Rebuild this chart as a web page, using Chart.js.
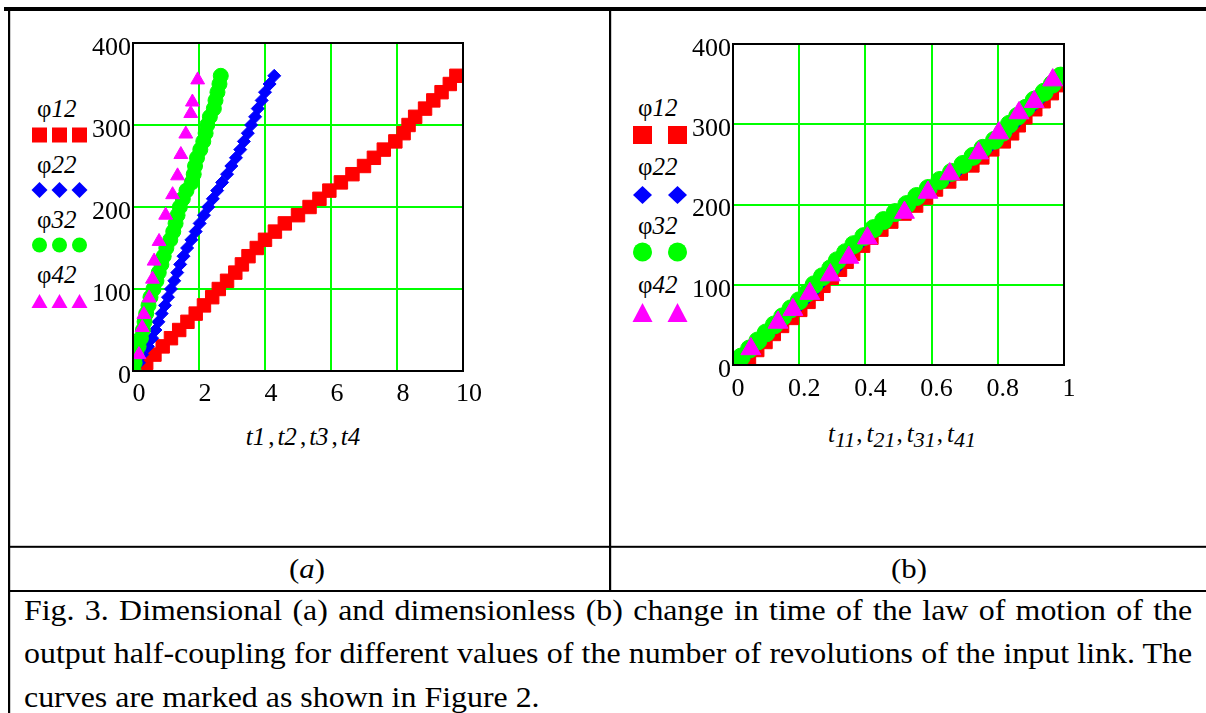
<!DOCTYPE html>
<html>
<head>
<meta charset="utf-8">
<script src="https://cdn.jsdelivr.net/npm/chart.js@4.4.1/dist/chart.umd.min.js"></script>
<style>
html,body{margin:0;padding:0;background:#fff;}
body{width:1206px;height:713px;position:relative;overflow:hidden;font-family:"Liberation Serif","Times New Roman",serif;color:#000;}
canvas{position:absolute;}
.lg{position:absolute;font-size:25px;line-height:25px;white-space:nowrap;}
.ttl{position:absolute;font-size:25px;line-height:25px;white-space:nowrap;transform:translateX(-50%);}
.ttl sub{font-size:22px;vertical-align:baseline;position:relative;top:5px;}
.cm{margin:0 3px;}
.cm2{margin:0 4px 0 1px;}
.cap{position:absolute;left:24px;width:1062px;font-size:29px;line-height:29px;white-space:nowrap;transform:scaleX(1.1);transform-origin:0 0;}
.just{text-align:justify;text-align-last:justify;}
.sub{position:absolute;font-size:28px;line-height:28px;white-space:nowrap;transform:translateX(-50%) scaleX(1.1);}
</style>
</head>
<body>
<svg style="position:absolute;left:0;top:0" width="1206" height="713">
  <rect x="4" y="7" width="1202" height="4" fill="#000"/>
  <rect x="8" y="7" width="2.2" height="706" fill="#000"/>
  <rect x="609" y="7" width="2.2" height="585" fill="#000"/>
  <rect x="8" y="545.8" width="1198" height="2" fill="#000"/>
  <rect x="8" y="590" width="1198" height="2" fill="#000"/>
  <!-- left legend symbols -->
  <rect x="32" y="127.5" width="15" height="15" fill="#ff0000"/>
  <rect x="52" y="127.5" width="15" height="15" fill="#ff0000"/>
  <rect x="72" y="127.5" width="15" height="15" fill="#ff0000"/>
  <polygon points="39.5,182 47.5,190 39.5,198 31.5,190" fill="#0000ff"/>
  <polygon points="59.5,182 67.5,190 59.5,198 51.5,190" fill="#0000ff"/>
  <polygon points="79.5,182 87.5,190 79.5,198 71.5,190" fill="#0000ff"/>
  <circle cx="39.5" cy="245" r="7.5" fill="#00ff00"/>
  <circle cx="59.5" cy="245" r="7.5" fill="#00ff00"/>
  <circle cx="79.5" cy="245" r="7.5" fill="#00ff00"/>
  <polygon points="39.5,294 47.5,308 31.5,308" fill="#ff00ff"/>
  <polygon points="59.5,294 67.5,308 51.5,308" fill="#ff00ff"/>
  <polygon points="79.5,294 87.5,308 71.5,308" fill="#ff00ff"/>
  <!-- right legend symbols -->
  <rect x="633" y="126" width="19" height="18" fill="#ff0000"/>
  <rect x="668" y="126" width="19" height="18" fill="#ff0000"/>
  <polygon points="642.5,186 652,195 642.5,204 633,195" fill="#0000ff"/>
  <polygon points="677.5,186 687,195 677.5,204 668,195" fill="#0000ff"/>
  <circle cx="642.5" cy="252" r="9.5" fill="#00ff00"/>
  <circle cx="677.5" cy="252" r="9.5" fill="#00ff00"/>
  <polygon points="642.5,303 652.5,322 632.5,322" fill="#ff00ff"/>
  <polygon points="677.5,303 687.5,322 667.5,322" fill="#ff00ff"/>
</svg>

<div class="lg" style="left:37px;top:96px">φ<i>12</i></div>
<div class="lg" style="left:37px;top:152px">φ<i>22</i></div>
<div class="lg" style="left:37px;top:207px">φ<i>32</i></div>
<div class="lg" style="left:37px;top:262px">φ<i>42</i></div>

<div class="lg" style="left:638px;top:95px">φ<i>12</i></div>
<div class="lg" style="left:638px;top:154px">φ<i>22</i></div>
<div class="lg" style="left:638px;top:213px">φ<i>32</i></div>
<div class="lg" style="left:638px;top:272px">φ<i>42</i></div>

<div class="ttl" style="left:303px;top:424px"><i>t1</i><span class="cm">,</span><i>t2</i><span class="cm">,</span><i>t3</i><span class="cm">,</span><i>t4</i></div>
<div class="ttl" style="left:902px;top:421px"><i>t</i><sub><i>11</i></sub><span class="cm2">,</span><i>t</i><sub><i>21</i></sub><span class="cm2">,</span><i>t</i><sub><i>31</i></sub><span class="cm2">,</span><i>t</i><sub><i>41</i></sub></div>

<div class="sub" style="left:307px;top:555px">(<i>a</i>)</div>
<div class="sub" style="left:909px;top:555px">(b)</div>

<div class="cap just" style="top:596px">Fig. 3. Dimensional (a) and dimensionless (b) change in time of the law of motion of the</div>
<div class="cap just" style="top:639px">output half-coupling for different values of the number of revolutions of the input link. The</div>
<div class="cap" style="top:683px">curves are marked as shown in Figure 2.</div>

<canvas id="chartA" width="609" height="480" style="left:0;top:0"></canvas>
<canvas id="chartB" width="595" height="480" style="left:611px;top:0"></canvas>

<script>
// ---- data ----
const SERIES = ['φ12', 'φ22', 'φ32', 'φ42'];
const COLORS = ['#ff0000', '#0000ff', '#00ff00', '#ff00ff'];
const Y_TICKS = [0, 100, 200, 300, 400];
const X_TICKS_A = [0, 2, 4, 6, 8, 10];
const X_TICKS_B = [0, 0.2, 0.4, 0.6, 0.8, 1];

// angle values (deg) for series 1-3
const PHI = [0,10,20,30,40,50,60,70,80,90,100,110,120,130,140,150,160,170,180,190,200,210,220,230,240,250,260,270,280,290,300,310,320,330,340,350,360];
// angle values (deg) for series 4
const PHI4 = [20,53,69,89,112,134,158,190,215,238,264,289,314,328,355];

// (a) dimensional time
const T1 = [0.15,0.4,0.65,0.9,1.15,1.4,1.65,1.9,2.15,2.4,2.6,2.85,3.1,3.3,3.5,3.75,4.0,4.3,4.6,5.0,5.35,5.65,5.95,6.3,6.65,7.0,7.3,7.6,7.95,8.2,8.35,8.55,8.85,9.1,9.35,9.6,9.8];
const T2 = [0.08,0.18,0.28,0.45,0.58,0.68,0.77,0.87,0.97,1.06,1.15,1.25,1.34,1.43,1.53,1.64,1.77,1.9,2.02,2.15,2.28,2.42,2.55,2.7,2.85,2.98,3.12,3.25,3.36,3.48,3.58,3.7,3.78,3.9,4.0,4.14,4.28];
const T3 = [0.02,0.05,0.1,0.17,0.24,0.3,0.35,0.4,0.47,0.53,0.62,0.71,0.78,0.86,0.93,1.01,1.13,1.22,1.29,1.35,1.42,1.51,1.62,1.78,1.84,1.88,1.94,2.04,2.13,2.2,2.25,2.33,2.45,2.5,2.56,2.62,2.66];
const T4 = [0.18,0.28,0.33,0.49,0.59,0.64,0.79,0.99,1.2,1.35,1.45,1.6,1.75,1.8,1.96];

// (b) dimensionless time
const TAU1 = [0.02,0.045,0.07,0.095,0.12,0.145,0.175,0.2,0.225,0.25,0.27,0.295,0.32,0.34,0.36,0.39,0.415,0.445,0.475,0.515,0.55,0.58,0.61,0.65,0.685,0.72,0.75,0.78,0.815,0.84,0.86,0.88,0.91,0.935,0.96,0.985,1.0];
const TAU2 = [0.01,0.035,0.06,0.085,0.11,0.135,0.16,0.19,0.215,0.24,0.26,0.285,0.31,0.33,0.35,0.38,0.405,0.435,0.465,0.5,0.535,0.565,0.6,0.64,0.675,0.705,0.735,0.77,0.8,0.825,0.85,0.87,0.9,0.925,0.95,0.975,1.0];
const TAU3 = [0.005,0.025,0.05,0.075,0.1,0.125,0.15,0.175,0.2,0.225,0.245,0.27,0.295,0.315,0.34,0.365,0.395,0.425,0.455,0.49,0.525,0.555,0.59,0.625,0.66,0.695,0.725,0.755,0.79,0.815,0.835,0.86,0.885,0.91,0.94,0.965,0.99];
const TAU4 = [0.054,0.136,0.181,0.232,0.294,0.35,0.406,0.518,0.589,0.655,0.742,0.803,0.864,0.91,0.966];

// ---- chart building ----
const FONT = "'Liberation Serif','Times New Roman',serif";
const STYLES = ['rect', 'rectRot', 'circle', 'triangle'];

function pairs(xs, ys) { return xs.map((x, i) => ({ x: x, y: ys[i] })); }

const framePlugin = {
  id: 'frame',
  afterDatasetsDraw(chart) {
    const a = chart.chartArea, c = chart.ctx;
    c.save();
    c.strokeStyle = '#000';
    c.lineWidth = 2;
    c.strokeRect(a.left, a.top, a.right - a.left, a.bottom - a.top);
    c.restore();
  }
};

function makeChart(id, xsList, ysList, xTicks, radii, geom) {
  const xmin = xTicks[0], xmax = xTicks[xTicks.length - 1];
  const ymin = Y_TICKS[0], ymax = Y_TICKS[Y_TICKS.length - 1];
  const datasets = xsList.map((xs, i) => ({
    label: SERIES[i],
    data: pairs(xs, ysList[i]),
    showLine: false,
    pointStyle: STYLES[i],
    pointRadius: radii[i],
    pointHoverRadius: radii[i],
    pointBackgroundColor: COLORS[i],
    pointBorderColor: COLORS[i],
    pointBorderWidth: 1,
    borderColor: COLORS[i],
    backgroundColor: COLORS[i],
    order: 4 - i,
    clip: 0
  }));
  const gridColor = (lo, hi) => (ctx) => {
    const v = ctx.tick ? ctx.tick.value : null;
    if (v === null || Math.abs(v - lo) < 1e-9 || Math.abs(v - hi) < 1e-9) return 'rgba(0,0,0,0)';
    return '#00ff00';
  };
  return new Chart(document.getElementById(id), {
    type: 'scatter',
    data: { datasets: datasets },
    options: {
      responsive: false,
      animation: false,
      devicePixelRatio: 1,
      events: [],
      layout: { padding: geom.padding },
      plugins: { legend: { display: false }, tooltip: { enabled: false }, title: { display: false } },
      scales: {
        x: {
          type: 'linear', min: xmin, max: xmax,
          afterBuildTicks: (s) => { s.ticks = xTicks.map(v => ({ value: v })); },
          afterFit: (s) => { s.height = geom.xh; },
          ticks: {
            color: '#000', font: { family: FONT, size: 26 }, padding: geom.xpad,
            labelOffset: geom.xoff, maxRotation: 0, autoSkip: false,
            callback: (v) => String(v)
          },
          grid: { color: gridColor(xmin, xmax), lineWidth: 2, drawTicks: false },
          border: { display: false }
        },
        y: {
          type: 'linear', min: ymin, max: ymax,
          afterBuildTicks: (s) => { s.ticks = Y_TICKS.map(v => ({ value: v })); },
          afterFit: (s) => { s.width = geom.yw; },
          ticks: {
            color: '#000', font: { family: FONT, size: 26 }, padding: 2,
            labelOffset: 5, autoSkip: false,
            callback: (v) => String(v)
          },
          grid: { color: gridColor(ymin, ymax), lineWidth: 2, drawTicks: false },
          border: { display: false }
        }
      }
    },
    plugins: [framePlugin]
  });
}

makeChart('chartA', [T1, T2, T3, T4], [PHI, PHI, PHI, PHI4], X_TICKS_A, [9.5, 6.5, 7.5, 8],
  { padding: { left: 0, top: 43, right: 146, bottom: 59 }, yw: 133, xh: 50, xpad: 8, xoff: 6 });
makeChart('chartB', [TAU1, TAU2, TAU3, TAU4], [PHI, PHI, PHI, PHI4], X_TICKS_B, [11, 7, 9, 11.5],
  { padding: { left: 0, top: 44, right: 142, bottom: 65 }, yw: 122, xh: 50, xpad: 9, xoff: 5 });
</script>
</body>
</html>
